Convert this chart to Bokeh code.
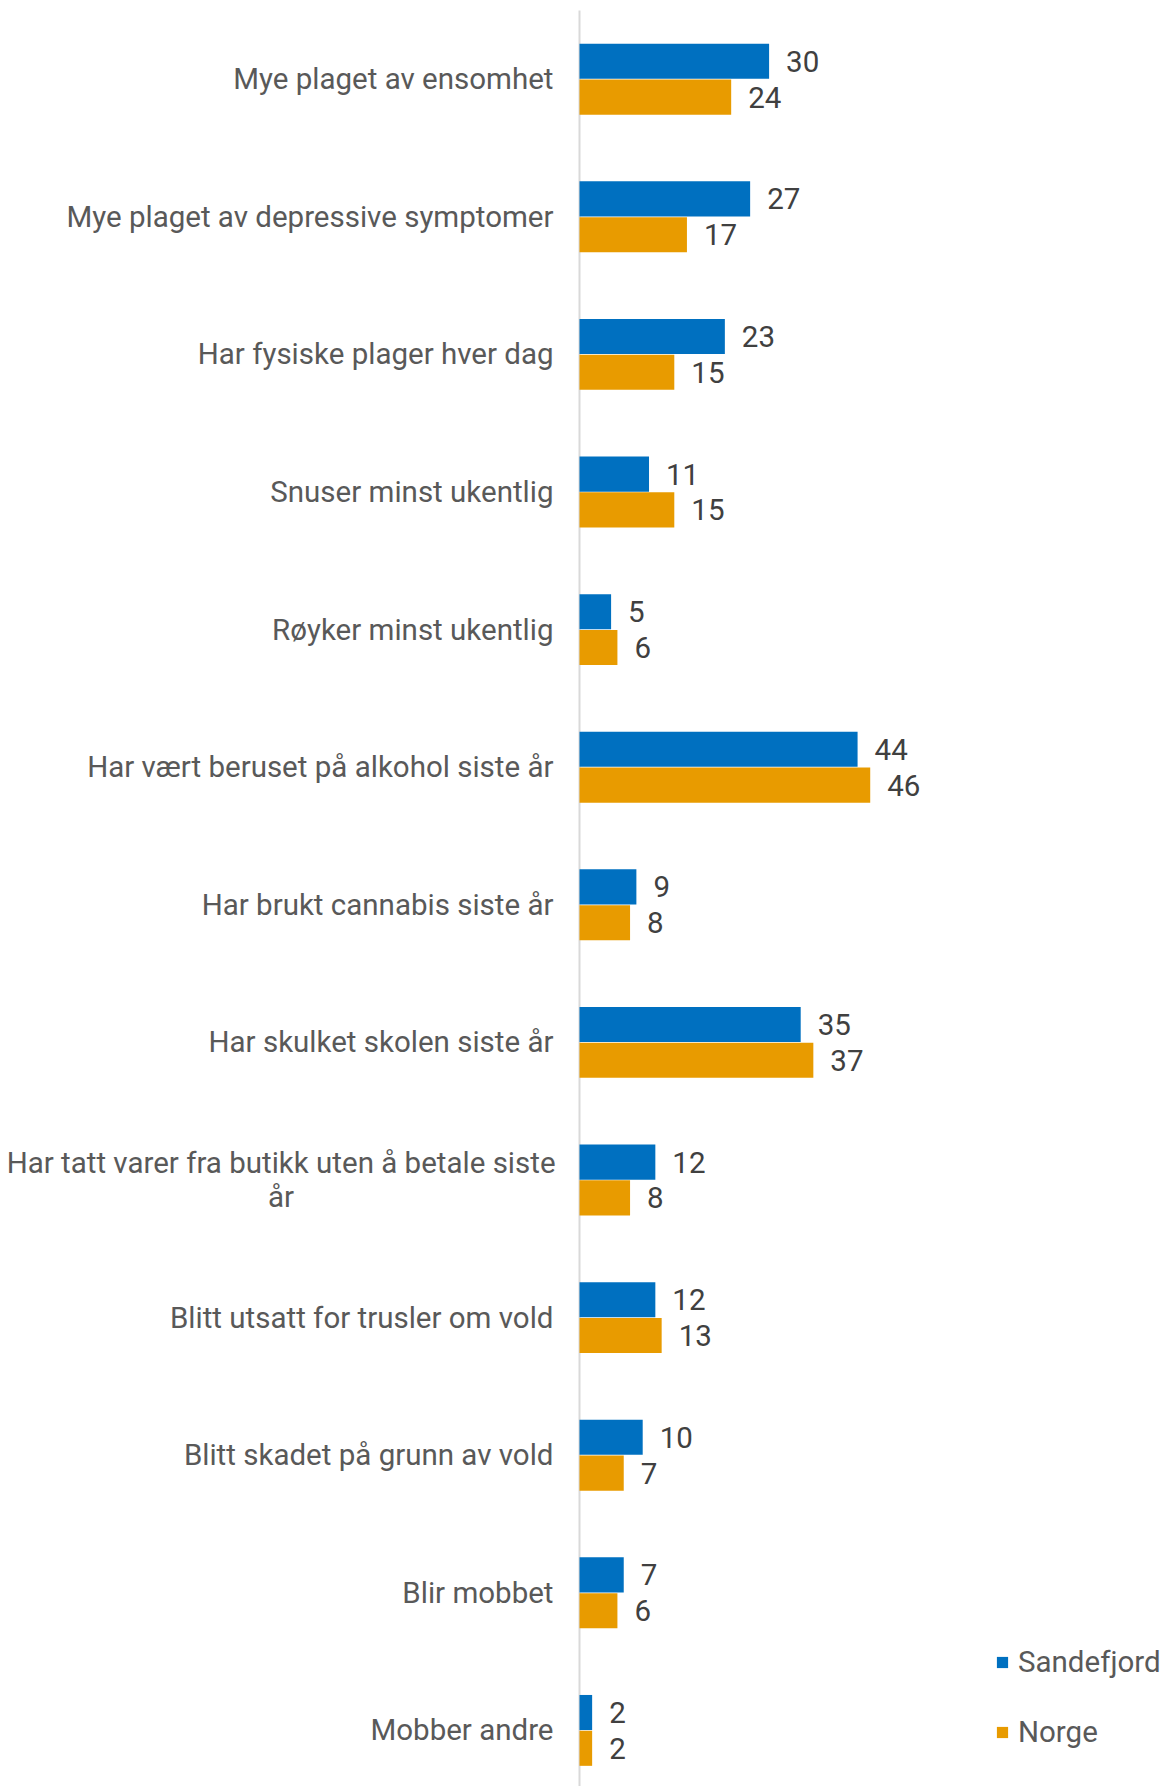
from bokeh.plotting import figure
from bokeh.models import Range1d, ColumnDataSource, Legend, LegendItem
from bokeh.core.properties import value
from bokeh.embed import file_html
from bokeh.resources import INLINE

categories = [
    "Mye plaget av ensomhet",
    "Mye plaget av depressive symptomer",
    "Har fysiske plager hver dag",
    "Snuser minst ukentlig",
    "Røyker minst ukentlig",
    "Har vært beruset på alkohol siste år",
    "Har brukt cannabis siste år",
    "Har skulket skolen siste år",
    "Har tatt varer fra butikk uten å betale siste\når",
    "Blitt utsatt for trusler om vold",
    "Blitt skadet på grunn av vold",
    "Blir mobbet",
    "Mobber andre",
]
sandefjord = [30, 27, 23, 11, 5, 44, 9, 35, 12, 12, 10, 7, 2]
norge = [24, 17, 15, 15, 6, 46, 8, 37, 8, 13, 7, 6, 2]
series_names = ["Sandefjord", "Norge"]

BLUE = "#0070C0"
ORANGE = "#E89B00"
FONT = "Roboto"
FS = "29.5px"

W, H = 1168, 1786
pxu = 6.32
band = 137.6
axis_px = 579
top_px = 78.7

x0 = -axis_px / pxu
x1 = x0 + W / pxu
y_top = -top_px / band
y_bot = y_top + H / band

p = figure(width=W, height=H, output_backend="svg", toolbar_location=None,
           x_range=Range1d(x0, x1), y_range=Range1d(y_bot, y_top),
           min_border=0, outline_line_color=None)
p.xaxis.visible = False
p.yaxis.visible = False
p.xgrid.visible = False
p.ygrid.visible = False
p.background_fill_color = "white"
p.border_fill_color = "white"

idx = list(range(len(categories)))
d = 0.13
src = ColumnDataSource(dict(
    y=idx,
    yb=[i - d for i in idx],
    yo=[i + d for i in idx],
    s=sandefjord,
    n=norge,
    st=[str(v) for v in sandefjord],
    nt=[str(v) for v in norge],
))

# vertical category axis line
p.segment(x0=[0], y0=[-0.5], x1=[0], y1=[y_bot], line_color="#D9D9D9", line_width=2)

rb = p.hbar(y="yb", right="s", left=0, height=0.255, source=src,
            fill_color=BLUE, line_color=None)
ro = p.hbar(y="yo", right="n", left=0, height=0.255, source=src,
            fill_color=ORANGE, line_color=None)

p.text(x="s", y="yb", text="st", source=src, x_offset=17,
       text_font=value(FONT), text_font_size=FS, text_color="#404040",
       text_baseline="middle", text_align="left")
p.text(x="n", y="yo", text="nt", source=src, x_offset=17,
       text_font=value(FONT), text_font_size=FS, text_color="#404040",
       text_baseline="middle", text_align="left")

# category labels
single = [(i, c) for i, c in enumerate(categories) if "\n" not in c]
multi = [(i, c) for i, c in enumerate(categories) if "\n" in c]
lab_x = -26 / pxu
p.text(x=[lab_x] * len(single), y=[i for i, _ in single], text=[c for _, c in single],
       text_font=value(FONT), text_font_size=FS, text_color="#595959",
       text_baseline="middle", text_align="right")
for i, c in multi:
    p.text(x=[(280.6 - axis_px) / pxu], y=[i], text=[c],
           text_font=value(FONT), text_font_size=FS, text_color="#595959",
           text_baseline="middle", text_align="center", text_line_height=0.98)

legend = Legend(items=[LegendItem(label=series_names[0], renderers=[rb]),
                       LegendItem(label=series_names[1], renderers=[ro])],
                location=(995, 37), orientation="vertical",
                glyph_width=14, glyph_height=14, label_height=30, spacing=36,
                label_standoff=9, padding=0, margin=0,
                border_line_color=None, background_fill_alpha=0,
                label_text_font=FONT, label_text_font_size=FS, label_text_color="#595959")
p.add_layout(legend)

open("out.html", "w").write(file_html(p, INLINE))
